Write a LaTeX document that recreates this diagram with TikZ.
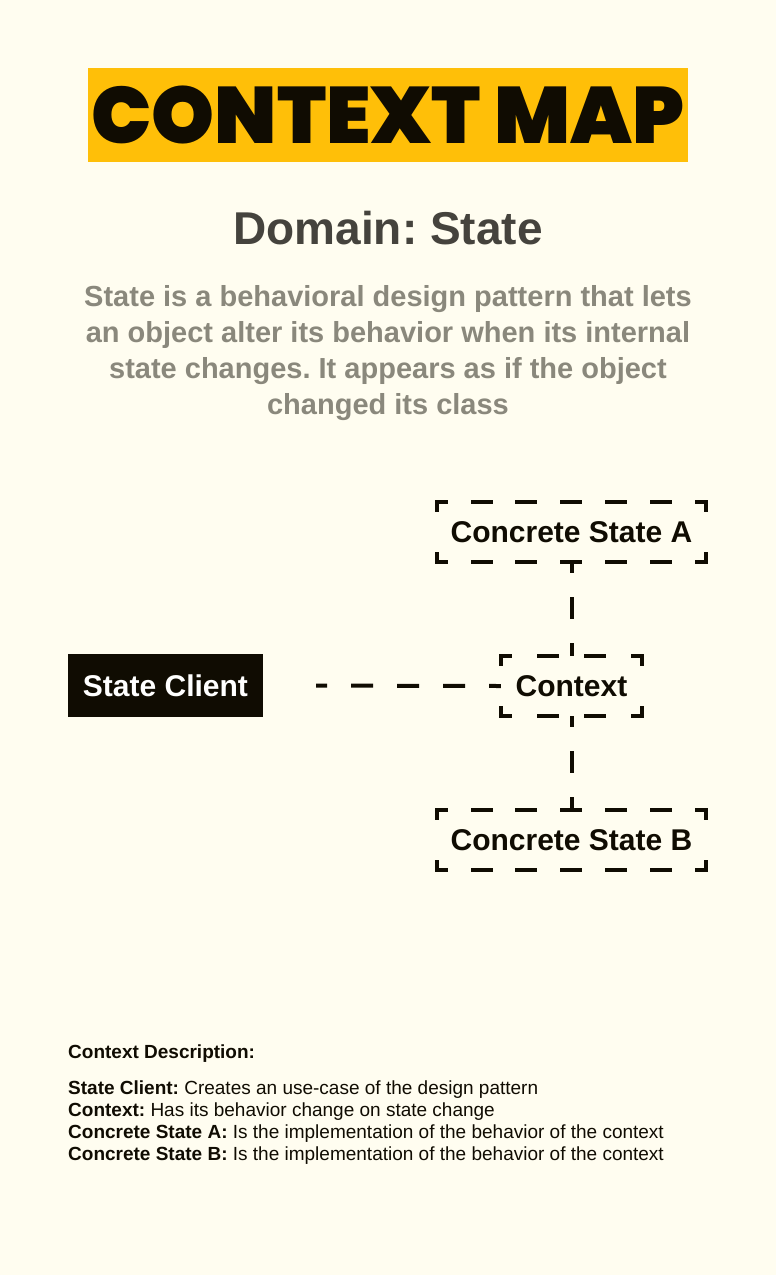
\documentclass[tikz,border=0pt]{standalone}
\usepackage{fontspec}
\setmainfont{Liberation Sans}
\newfontfamily\titlefont{Poppins Black}
\frenchspacing
\definecolor{paper}{HTML}{FFFDF0}
\definecolor{marker}{HTML}{FFBF08}
\definecolor{ink}{HTML}{100C02}
\definecolor{heading}{HTML}{45433D}
\definecolor{muted}{HTML}{8A887C}
\tikzstyle{solid box}=[fill=ink,text=white,font=\bfseries\fontsize{30}{30}\selectfont,minimum width=195pt,minimum height=63pt,inner sep=0pt]
\tikzstyle{dashed box}=[text=ink,font=\bfseries\fontsize{30}{30}\selectfont,minimum height=60pt,inner sep=0pt]
\tikzstyle{side}=[draw=ink,line width=4pt,line cap=rect]
\tikzstyle{link}=[draw=ink,line width=4pt,dash pattern=on 22pt off 24pt,dash phase=11pt]
\tikzstyle{note}=[anchor=west,text=ink,inner sep=0pt,font=\fontsize{19}{19}\selectfont]

\begin{document}
\begin{tikzpicture}[x=1pt,y=-1pt]
  % Page background
  \fill[paper] (0,0) rectangle (776,1275);
  \useasboundingbox (0,0) rectangle (776,1275);
  % Title, domain and intro text
  \node[fill=marker,text=ink,minimum width=600pt,minimum height=94pt,inner sep=0pt,
        font=\titlefont\fontsize{80}{80}\selectfont] (title) at (388,115) {CONTEXT MAP};
  \node[text=heading,font=\bfseries\fontsize{46}{46}\selectfont] (domain) at (388,228) {Domain: State};
  \node[text=muted,align=center,font=\bfseries\fontsize{29}{36}\selectfont] (intro) at (388,353)
    {State is a behavioral design pattern that lets\\an object alter its behavior when its internal\\
     state changes. It appears as if the object\\changed its class};
  % First we draw the blocks
  \node[solid box] (client) at (165.5,685.5) {State Client};
  \foreach \pos/\name/\width/\lbl in {{(571.5,532)/stateA/269/Concrete State A},
                                      {(571.5,686)/context/141/Context},
                                      {(571.5,840)/stateB/269/Concrete State B}}
      \node[dashed box,minimum width=\width pt] (\name) at \pos {\lbl};
  % Dashed outlines, one side at a time so the corners stay L-shaped
  \foreach \name/\gap in {stateA/26.8,context/29,stateB/26.8}{
      \path[side,dash pattern=on 18pt off \gap pt,dash phase=9pt]
        (\name.north west) -- (\name.north east) (\name.south west) -- (\name.south east);
      \path[side,dash pattern=on 8pt off 44pt]
        (\name.north west) -- (\name.south west) (\name.north east) -- (\name.south east);
  }
  % Connect the blocks
  \path[link,shorten <=53pt] (client.east) -- (context.west);
  \path[link] (stateA.south) -- (context.north);
  \path[link] (context.south) -- (stateB.north);
  % Description of the blocks
  \node[note,font=\bfseries\fontsize{19}{19}\selectfont] (legend) at (68,1054) {Context Description:};
  \foreach \y/\name/\key/\desc in {
      1090/client/State Client/Creates an use-case of the design pattern,
      1112/context/Context/Has its behavior change on state change,
      1134/stateA/Concrete State A/Is the implementation of the behavior of the context,
      1156/stateB/Concrete State B/Is the implementation of the behavior of the context}
      \node[note] (desc-\name) at (68,\y) {\textbf{\key:} \desc};
\end{tikzpicture}
\end{document}
